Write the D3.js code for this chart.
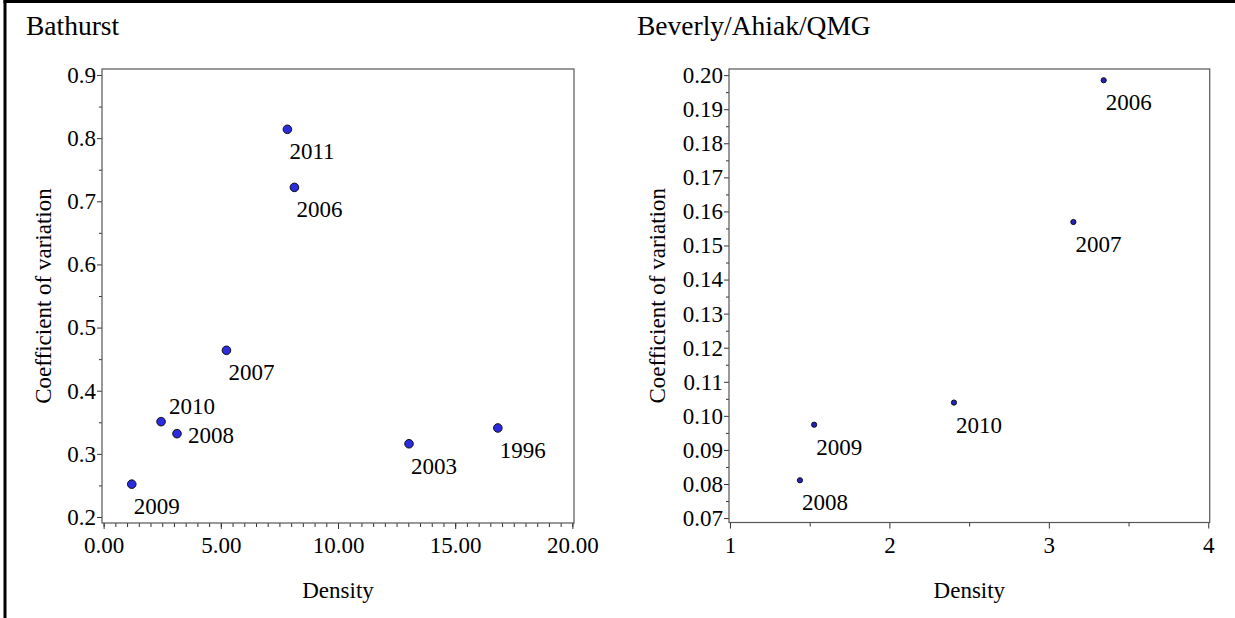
<!DOCTYPE html>
<html>
<head>
<meta charset="utf-8">
<script src="https://cdn.jsdelivr.net/npm/d3@7"></script>
<style>
  html, body { margin: 0; padding: 0; background: #fff; }
  svg { display: block; }
  svg text { font-family: 'Liberation Serif', Tinos, 'Times New Roman', Times, 'DejaVu Serif', serif; fill: #000; }
</style>
</head>
<body>
<svg id="chart" width="1235" height="618"></svg>
<script>
// ---- Bathurst herd: density vs coefficient of variation ----
const bathurstYears   = ["2011", "2006", "2007", "2010", "2008", "2009", "2003", "1996"];
const bathurstDensity = [7.84, 8.14, 5.24, 2.45, 3.13, 1.20, 13.03, 16.82];
const bathurstCV      = [0.814, 0.722, 0.464, 0.351, 0.332, 0.252, 0.316, 0.341];
const bathurstLabelAt = ["below", "below", "below", "aboveRight", "right", "below", "below", "below"];
const bathurstXTicks  = [0, 5, 10, 15, 20];
const bathurstYTicks  = [0.2, 0.3, 0.4, 0.5, 0.6, 0.7, 0.8, 0.9];

// ---- Beverly/Ahiak/QMG herds ----
const beverlyYears   = ["2006", "2007", "2010", "2009", "2008"];
const beverlyDensity = [3.344, 3.154, 2.405, 1.528, 1.439];
const beverlyCV      = [0.1985, 0.1569, 0.1039, 0.0974, 0.0811];
const beverlyLabelAt = ["below", "below", "below", "below", "below"];
const beverlyXTicks  = [1, 2, 3, 4];
const beverlyYTicks  = [0.07, 0.08, 0.09, 0.10, 0.11, 0.12, 0.13, 0.14, 0.15, 0.16, 0.17, 0.18, 0.19, 0.20];

const SERIF = "'Liberation Serif', Tinos, 'Times New Roman', Times, 'DejaVu Serif', serif";

const svg = d3.select("#chart");

// outer page frame (left and top rules)
svg.append("rect").attr("x", 3.5).attr("y", 0).attr("width", 3).attr("height", 618).attr("fill", "#000");
svg.append("rect").attr("x", 3.5).attr("y", 0).attr("width", 1232).attr("height", 3).attr("fill", "#000");

const labelOffsets = {
  below:      { dx: 2,  dy: 30 },
  aboveRight: { dx: 8,  dy: -8 },
  right:      { dx: 11, dy: 9 }
};

function styleText(sel, size) {
  sel.attr("font-family", SERIF).style("font-family", SERIF)
     .attr("font-size", size).style("font-size", size + "px")
     .attr("fill", "#000");
}

function drawPanel(cfg) {
  const g = svg.append("g");

  const x = d3.scaleLinear().domain(cfg.xDomain).range([cfg.left, cfg.right]);
  const y = d3.scaleLinear().domain(cfg.yDomain).range([cfg.bottom, cfg.top]);

  // title
  g.append("text")
    .attr("x", cfg.titleX).attr("y", 35)
    .call(styleText, 27.5)
    .text(cfg.title);

  // minor ticks
  g.append("g")
    .attr("transform", `translate(0,${cfg.bottom})`)
    .call(d3.axisBottom(x).tickValues(cfg.xMinor).tickSize(4).tickSizeOuter(0).tickFormat(""))
    .call(a => a.select(".domain").remove())
    .call(a => a.selectAll("line").attr("stroke", "#333"));
  g.append("g")
    .attr("transform", `translate(${cfg.left},0)`)
    .call(d3.axisLeft(y).tickValues(cfg.yMinor).tickSize(3).tickSizeOuter(0).tickFormat(""))
    .call(a => a.select(".domain").remove())
    .call(a => a.selectAll("line").attr("stroke", "#333"));

  // major axes
  g.append("g")
    .attr("transform", `translate(0,${cfg.bottom})`)
    .call(d3.axisBottom(x).tickValues(cfg.xTicks).tickSize(6).tickPadding(8).tickSizeOuter(0).tickFormat(cfg.xFormat))
    .call(a => a.attr("font-family", SERIF).attr("font-size", 23))
    .call(a => a.select(".domain").remove())
    .call(a => a.selectAll("line").attr("stroke", "#333"))
    .call(a => a.selectAll("text").call(styleText, 23));
  g.append("g")
    .attr("transform", `translate(${cfg.left},0)`)
    .call(d3.axisLeft(y).tickValues(cfg.yTicks).tickSize(5).tickPadding(1).tickSizeOuter(0).tickFormat(cfg.yFormat))
    .call(a => a.attr("font-family", SERIF).attr("font-size", 23))
    .call(a => a.select(".domain").remove())
    .call(a => a.selectAll("line").attr("stroke", "#333"))
    .call(a => a.selectAll("text").call(styleText, 23));

  // plot frame
  g.append("rect")
    .attr("x", cfg.left).attr("y", cfg.top)
    .attr("width", cfg.right - cfg.left).attr("height", cfg.bottom - cfg.top)
    .attr("fill", "none").attr("stroke", "#555").attr("stroke-width", 1.2);

  // axis titles
  g.append("text")
    .attr("x", (cfg.left + cfg.right) / 2).attr("y", 598)
    .attr("text-anchor", "middle")
    .call(styleText, 23)
    .text("Density");
  g.append("text")
    .attr("transform", `translate(${cfg.yTitleX},${(cfg.top + cfg.bottom) / 2}) rotate(-90)`)
    .attr("text-anchor", "middle")
    .call(styleText, 23)
    .text("Coefficient of variation");

  // points and year labels
  const pts = cfg.years.map((yr, i) => ({ yr, d: cfg.density[i], cv: cfg.cv[i], at: cfg.labelAt[i] }));

  g.selectAll("circle.pt").data(pts).join("circle")
    .attr("class", "pt")
    .attr("cx", p => x(p.d)).attr("cy", p => y(p.cv))
    .attr("r", cfg.radius)
    .attr("fill", cfg.fill).attr("stroke", "#111").attr("stroke-width", 1);

  g.selectAll("text.yr").data(pts).join("text")
    .attr("class", "yr")
    .attr("x", p => x(p.d) + labelOffsets[p.at].dx)
    .attr("y", p => y(p.cv) + labelOffsets[p.at].dy)
    .call(styleText, 23)
    .text(p => p.yr);
}

drawPanel({
  title: "Bathurst", titleX: 26,
  left: 102, right: 574, top: 69, bottom: 523,
  xDomain: [-0.07, 20.07], yDomain: [0.1905, 0.9095],
  xTicks: bathurstXTicks, yTicks: bathurstYTicks,
  xMinor: d3.range(0, 20.01, 0.5), yMinor: d3.range(0.25, 0.9, 0.1),
  xFormat: d3.format(".2f"), yFormat: d3.format(".1f"),
  yTitleX: 51,
  years: bathurstYears, density: bathurstDensity, cv: bathurstCV, labelAt: bathurstLabelAt,
  radius: 4.3, fill: "#2b2be0"
});

drawPanel({
  title: "Beverly/Ahiak/QMG", titleX: 637,
  left: 729, right: 1209.7, top: 69, bottom: 522.5,
  xDomain: [0.994, 4.009], yDomain: [0.0687, 0.2018],
  xTicks: beverlyXTicks, yTicks: beverlyYTicks,
  xMinor: [1.5, 2.5, 3.5], yMinor: d3.range(0.075, 0.2, 0.01),
  xFormat: d3.format("d"), yFormat: d3.format(".2f"),
  yTitleX: 665,
  years: beverlyYears, density: beverlyDensity, cv: beverlyCV, labelAt: beverlyLabelAt,
  radius: 2.6, fill: "#2222c0"
});
</script>
</body>
</html>
